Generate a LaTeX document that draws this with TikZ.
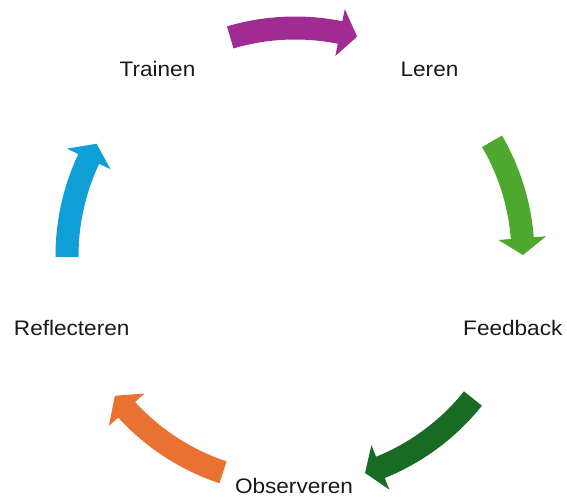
\documentclass[tikz,border=0pt]{standalone}
\usepackage{fontspec}
\setmainfont{Liberation Sans}[FakeStretch=1.075]
\definecolor{cpurple}{HTML}{A02B93}
\definecolor{cgreen}{HTML}{4EA72E}
\definecolor{cdkgreen}{HTML}{196B24}
\definecolor{corange}{HTML}{E97132}
\definecolor{cblue}{HTML}{0F9ED5}
\newcommand{\cyclearrow}[4]{%
  \fill[#1, shift={(295pt,-256pt)}]
    (#2:239.5pt) arc[start angle=#2, end angle=#3, radius=239.5pt]
    -- (#3:252pt) -- (#4:228pt) -- (#3:204pt) -- (#3:216.5pt)
    arc[start angle=#3, end angle=#2, radius=216.5pt] -- cycle;}
\tikzset{lbl/.style={anchor=base, inner sep=0pt, font=\fontsize{21}{24}\selectfont, text=black!90}}
\begin{document}
\begin{tikzpicture}
\useasboundingbox (0pt,0pt) rectangle (567pt,-497pt);
\cyclearrow{cpurple}{106.5}{78.6}{74.2}
\cyclearrow{cgreen}{30.2}{4.5}{0.25}
\cyclearrow{cdkgreen}{-38.7}{-68.0}{-72.1}
\cyclearrow{corange}{-108.4}{-137.6}{-142.2}
\cyclearrow{cblue}{180.2}{154.8}{150.5}
\node[lbl] (trainen) at (157.5pt,-76.7pt) {Trainen};
\node[lbl] (leren) at (429.5pt,-76.7pt) {Leren};
\node[lbl] (feedback) at (512.8pt,-335pt) {Feedback};
\node[lbl] (observeren) at (294pt,-493.5pt) {Observeren};
\node[lbl] (reflecteren) at (71.7pt,-335.5pt) {Reflecteren};
\end{tikzpicture}
\end{document}
